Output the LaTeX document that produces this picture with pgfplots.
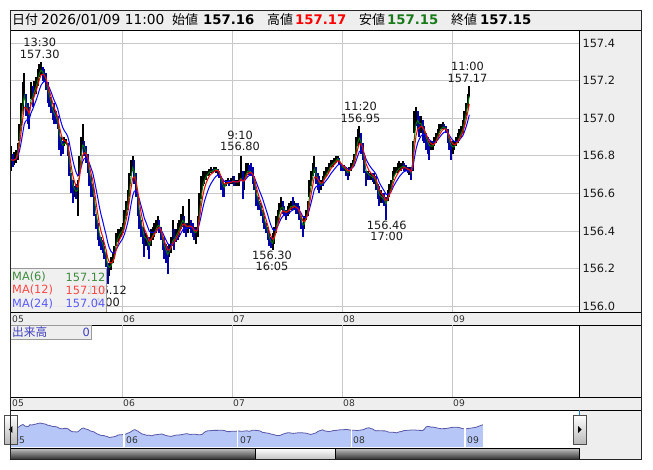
\documentclass[border=0pt]{standalone}
\usepackage{fontspec}
\setmainfont{DejaVu Sans}
\newfontfamily\cjk{Noto Sans CJK JP}
\usepackage{pgfplots}
\usepackage{pgfplotstable}
\pgfplotsset{compat=1.18}

\definecolor{panel}{HTML}{EEEEEE}
\definecolor{gridc}{HTML}{C8C8C8}
\definecolor{maG}{HTML}{007800}
\definecolor{maR}{HTML}{FF0000}
\definecolor{maB}{HTML}{0000FF}
\definecolor{candD}{HTML}{0000A8}
\definecolor{navfill}{HTML}{B6C6F6}
\definecolor{navline}{HTML}{5A5AA8}
\definecolor{legG}{HTML}{3D8B3D}
\definecolor{legR}{HTML}{FF4646}
\definecolor{legB}{HTML}{5A5AFF}
\definecolor{volT}{HTML}{4040C0}
\definecolor{hiR}{HTML}{FF0000}
\definecolor{loG}{HTML}{1A7A1A}

\pgfplotstableread{
x h l c u
11 156.85 156.72 156.78 1
12.7 156.81 156.74 156.77 0
14.3 156.82 156.75 156.78 1
16 156.83 156.76 156.79 1
17.7 156.87 156.78 156.84 1
19.3 156.97 156.88 156.93 1
21 157.08 156.96 157.03 1
22.7 157.19 157.04 157.12 1
24.3 157.24 157.12 157.16 1
26 157.13 157.01 157.05 0
27.7 157.08 156.97 157.02 0
29.3 157.06 156.94 157.00 0
31 157.19 157.10 157.15 1
32.7 157.17 157.06 157.12 0
34.3 157.20 157.12 157.16 1
36 157.22 157.13 157.18 1
37.7 157.26 157.17 157.22 1
39.3 157.29 157.22 157.26 1
41 157.30 157.23 157.27 1
42.7 157.27 157.20 157.24 0
44.3 157.26 157.19 157.22 0
46 157.24 157.15 157.19 0
47.7 157.19 157.08 157.12 0
49.3 157.15 157.06 157.10 0
51 157.11 157.03 157.06 0
52.7 157.06 156.99 157.02 0
54.3 157.08 156.97 157.01 0
56 157.04 156.97 157.00 0
57.7 157.01 156.94 156.96 0
59.3 156.94 156.83 156.88 0
61 156.90 156.80 156.85 0
62.7 156.88 156.81 156.84 0
64.3 156.90 156.85 156.87 1
66 156.89 156.86 156.87 1
67.7 156.87 156.80 156.84 0
69.3 156.80 156.69 156.74 0
71 156.71 156.60 156.65 0
72.7 156.67 156.55 156.61 0
74.3 156.64 156.58 156.61 1
76 156.65 156.57 156.60 0
77.7 156.67 156.48 156.62 1
79.3 156.80 156.69 156.75 1
81 156.90 156.80 156.85 1
82.7 156.97 156.85 156.90 1
84.3 156.88 156.80 156.84 0
86 156.85 156.76 156.80 0
87.7 156.81 156.71 156.76 0
89.3 156.72 156.64 156.68 0
91 156.69 156.58 156.64 0
92.7 156.65 156.58 156.61 0
94.3 156.58 156.48 156.53 0
96 156.49 156.41 156.45 0
97.7 156.44 156.35 156.40 0
99.3 156.39 156.32 156.35 0
101 156.37 156.30 156.33 0
102.7 156.35 156.28 156.32 0
104.3 156.32 156.25 156.28 0
106 156.28 156.21 156.25 0
107.7 156.23 156.12 156.18 0
109.3 156.23 156.16 156.20 1
111 156.26 156.19 156.22 1
112.7 156.28 156.23 156.25 1
114.3 156.32 156.25 156.28 1
116 156.39 156.32 156.36 1
117.7 156.41 156.34 156.38 1
119.3 156.41 156.35 156.39 1
121 156.42 156.37 156.40 1
122.7 156.44 156.39 156.41 1
124.3 156.51 156.42 156.46 1
126 156.56 156.48 156.52 1
127.7 156.62 156.51 156.57 1
129.3 156.71 156.58 156.65 1
131 156.78 156.69 156.74 1
132.7 156.80 156.72 156.77 1
134.3 156.78 156.65 156.70 0
136 156.71 156.58 156.63 0
137.7 156.58 156.48 156.53 0
139.3 156.51 156.41 156.46 0
141 156.46 156.37 156.41 0
142.7 156.42 156.33 156.38 0
144.3 156.41 156.26 156.34 0
146 156.39 156.32 156.36 1
147.7 156.37 156.30 156.33 0
149.3 156.37 156.25 156.31 0
151 156.41 156.32 156.37 1
152.7 156.42 156.35 156.39 1
154.3 156.44 156.37 156.40 1
156 156.46 156.39 156.42 1
157.7 156.48 156.41 156.44 1
159.3 156.46 156.39 156.43 0
161 156.42 156.35 156.38 0
162.7 156.37 156.30 156.33 0
164.3 156.37 156.25 156.30 0
166 156.33 156.23 156.28 0
167.7 156.32 156.17 156.26 0
169.3 156.33 156.26 156.30 1
171 156.37 156.28 156.33 1
172.7 156.46 156.32 156.37 1
174.3 156.41 156.30 156.36 0
176 156.41 156.34 156.38 1
177.7 156.44 156.35 156.40 1
179.3 156.46 156.37 156.42 1
181 156.49 156.41 156.45 1
182.7 156.53 156.42 156.47 1
184.3 156.48 156.39 156.44 0
186 156.44 156.37 156.41 0
187.7 156.44 156.39 156.42 1
189.3 156.57 156.41 156.43 1
191 156.46 156.39 156.42 0
192.7 156.44 156.37 156.41 0
194.3 156.42 156.35 156.38 0
196 156.42 156.33 156.39 1
197.7 156.48 156.37 156.42 1
199.3 156.60 156.48 156.54 1
201 156.69 156.57 156.63 1
202.7 156.72 156.64 156.68 1
204.3 156.72 156.65 156.69 1
206 156.72 156.67 156.70 1
207.7 156.72 156.69 156.71 1
209.3 156.73 156.70 156.72 1
211 156.74 156.71 156.72 1
212.7 156.73 156.71 156.72 0
214.3 156.74 156.72 156.73 1
216 156.74 156.71 156.73 1
217.7 156.73 156.70 156.72 0
219.3 156.72 156.68 156.70 0
221 156.69 156.62 156.65 0
222.7 156.67 156.58 156.63 0
224.3 156.65 156.58 156.62 0
226 156.67 156.64 156.66 1
227.7 156.68 156.65 156.66 1
229.3 156.67 156.64 156.66 0
231 156.68 156.65 156.66 1
232.7 156.69 156.65 156.67 1
234.3 156.69 156.64 156.66 0
236 156.67 156.64 156.66 1
237.7 156.67 156.64 156.66 1
239.3 156.71 156.64 156.67 1
241 156.80 156.67 156.69 1
242.7 156.72 156.57 156.65 0
244.3 156.72 156.62 156.67 1
246 156.76 156.69 156.72 1
247.7 156.76 156.71 156.73 1
249.3 156.75 156.70 156.72 0
251 156.76 156.69 156.71 0
252.7 156.74 156.65 156.69 0
254.3 156.69 156.62 156.65 0
256 156.62 156.53 156.57 0
257.7 156.58 156.51 156.55 0
259.3 156.56 156.51 156.53 0
261 156.55 156.48 156.51 0
262.7 156.51 156.44 156.48 0
264.3 156.48 156.41 156.44 0
266 156.44 156.39 156.41 0
267.7 156.42 156.35 156.38 0
269.3 156.39 156.32 156.34 0
271 156.37 156.31 156.33 0
272.7 156.39 156.30 156.33 1
274.3 156.42 156.33 156.38 1
276 156.48 156.39 156.44 1
277.7 156.51 156.44 156.48 1
279.3 156.55 156.49 156.52 1
281 156.58 156.51 156.54 1
282.7 156.56 156.49 156.53 0
284.3 156.53 156.48 156.50 0
286 156.51 156.46 156.49 0
287.7 156.53 156.48 156.51 1
289.3 156.55 156.49 156.52 1
291 156.56 156.51 156.54 1
292.7 156.58 156.51 156.53 0
294.3 156.56 156.51 156.54 1
296 156.55 156.49 156.52 0
297.7 156.55 156.49 156.51 0
299.3 156.53 156.46 156.49 0
301 156.48 156.41 156.44 0
302.7 156.44 156.37 156.41 0
304.3 156.48 156.41 156.44 1
306 156.51 156.46 156.49 1
307.7 156.56 156.48 156.52 1
309.3 156.67 156.58 156.62 1
311 156.72 156.64 156.68 1
312.7 156.76 156.69 156.72 1
314.3 156.80 156.71 156.76 1
316 156.74 156.65 156.69 0
317.7 156.71 156.62 156.66 0
319.3 156.69 156.60 156.64 0
321 156.67 156.62 156.64 1
322.7 156.69 156.64 156.66 1
324.3 156.72 156.67 156.70 1
326 156.74 156.69 156.71 1
327.7 156.74 156.71 156.72 1
329.3 156.76 156.72 156.74 1
331 156.78 156.74 156.76 1
332.7 156.78 156.74 156.76 1
334.3 156.79 156.75 156.77 1
336 156.80 156.76 156.78 1
337.7 156.80 156.77 156.79 1
339.3 156.79 156.75 156.77 0
341 156.76 156.72 156.74 0
342.7 156.75 156.72 156.73 0
344.3 156.75 156.72 156.73 1
346 156.74 156.69 156.72 0
347.7 156.72 156.67 156.70 0
349.3 156.74 156.69 156.72 1
351 156.76 156.72 156.74 1
352.7 156.78 156.74 156.76 1
354.3 156.81 156.76 156.79 1
356 156.90 156.81 156.86 1
357.7 156.94 156.85 156.90 1
359.3 156.96 156.87 156.91 1
361 156.92 156.81 156.86 0
362.7 156.87 156.78 156.82 0
364.3 156.80 156.71 156.74 0
366 156.72 156.64 156.68 0
367.7 156.72 156.67 156.70 1
369.3 156.71 156.67 156.69 0
371 156.71 156.67 156.69 1
372.7 156.71 156.66 156.68 0
374.3 156.71 156.65 156.68 1
376 156.69 156.62 156.65 0
377.7 156.65 156.57 156.60 0
379.3 156.64 156.53 156.57 0
381 156.62 156.55 156.58 1
382.7 156.60 156.55 156.57 0
384.3 156.60 156.53 156.56 0
386 156.58 156.46 156.53 0
387.7 156.62 156.56 156.59 1
389.3 156.65 156.58 156.62 1
391 156.67 156.62 156.64 1
392.7 156.72 156.67 156.70 1
394.3 156.74 156.69 156.71 1
396 156.74 156.71 156.72 1
397.7 156.76 156.71 156.73 1
399.3 156.77 156.72 156.74 1
401 156.76 156.72 156.74 1
402.7 156.77 156.73 156.75 1
404.3 156.76 156.72 156.74 0
406 156.75 156.72 156.73 0
407.7 156.74 156.71 156.72 0
409.3 156.74 156.70 156.72 1
411 156.74 156.67 156.70 0
412.7 156.88 156.72 156.80 1
414.3 157.04 156.92 156.98 1
416 157.06 156.96 157.02 1
417.7 157.04 156.94 157.00 0
419.3 157.01 156.90 156.96 0
421 157.01 156.92 156.97 1
422.7 156.99 156.88 156.94 0
424.3 156.96 156.87 156.92 0
426 156.92 156.83 156.88 0
427.7 156.90 156.81 156.86 0
429.3 156.88 156.78 156.84 0
431 156.88 156.83 156.85 1
432.7 156.88 156.83 156.85 1
434.3 156.90 156.85 156.87 1
436 156.92 156.87 156.89 1
437.7 156.94 156.90 156.92 1
439.3 156.97 156.92 156.94 1
441 156.97 156.94 156.95 1
442.7 156.98 156.94 156.96 1
444.3 156.97 156.94 156.95 0
446 156.96 156.92 156.94 0
447.7 156.94 156.87 156.90 0
449.3 156.90 156.83 156.86 0
451 156.88 156.78 156.84 0
452.7 156.88 156.81 156.84 1
454.3 156.88 156.83 156.85 1
456 156.90 156.85 156.87 1
457.7 156.92 156.87 156.89 1
459.3 156.94 156.88 156.91 1
461 156.96 156.90 156.93 1
462.7 156.99 156.92 156.95 1
464.3 157.04 156.96 157.00 1
466 157.08 157.01 157.05 1
467.7 157.13 157.06 157.10 1
469.3 157.17 157.11 157.15 1
}\pricedata

\pgfplotstablecreatecol[create col/expr accum={\pgfmathaccuma+0.6*(\thisrow{c}-\pgfmathaccuma)}{156.78}]{ma6}\pricedata
\pgfplotstablecreatecol[create col/expr accum={\pgfmathaccuma+0.38*(\thisrow{c}-\pgfmathaccuma)}{156.78}]{ma12}\pricedata
\pgfplotstablecreatecol[create col/expr accum={\pgfmathaccuma+0.21*(\thisrow{c}-\pgfmathaccuma)}{156.78}]{ma24}\pricedata

\newcommand{\lab}{\fontsize{11.4}{12}\selectfont}
\newcommand{\dat}{\fontsize{9.2}{10}\selectfont}
\newcommand{\hdr}{\fontsize{13.8}{14}\selectfont}
\newcommand{\hdrb}{\fontsize{13.3}{14}\selectfont\bfseries}

\begin{document}
\begin{tikzpicture}
\begin{scope}[x=1bp,y=-1bp]
  \useasboundingbox (0,0) rectangle (653,470);
  \fill[white] (0,0) rectangle (653,470);
  \fill[panel] (10,10) rectangle (641,30);
  \fill[panel] (579,30) rectangle (641,312.5);
  \fill[panel] (579,325) rectangle (641,397);
  \fill[panel] (579.6,410) rectangle (641,459);
\end{scope}

% ---------- main price axis ----------
\begin{axis}[
  at={(10bp,-312.5bp)}, anchor=south west,
  scale only axis, width=569bp, height=282.5bp,
  xmin=10, xmax=579, ymin=155.966, ymax=157.469,
  xtick={122,232,342,452}, xticklabels={},
  ytick={156.0,156.2,156.4,156.6,156.8,157.0,157.2,157.4},
  yticklabel pos=right,
  yticklabel style={font=\lab, text=black!90,
    /pgf/number format/fixed, /pgf/number format/fixed zerofill,
    /pgf/number format/precision=1, /pgf/number format/assume math mode=true},
  grid=major, major grid style={gridc, line width=0.8bp},
  major tick length=0pt,
  axis line style={black, line width=0.8bp},
]
\addplot[draw=none, mark=none, forget plot,
  restrict expr to domain={\thisrow{u}}{0.5:1.5},
  error bars/.cd, y dir=both, y explicit, error mark=none,
  error bar style={draw=black, line width=1.7bp}]
  table[x=x, y=c, y error plus expr=\thisrow{h}-\thisrow{c}, y error minus expr=\thisrow{c}-\thisrow{l}] {\pricedata};
\addplot[draw=none, mark=none, forget plot,
  restrict expr to domain={\thisrow{u}}{-0.5:0.5},
  error bars/.cd, y dir=both, y explicit, error mark=none,
  error bar style={draw=candD, line width=1.7bp}]
  table[x=x, y=c, y error plus expr=\thisrow{h}-\thisrow{c}, y error minus expr=\thisrow{c}-\thisrow{l}] {\pricedata};
\addplot[maG, line width=1bp] table[x=x, y=ma6] {\pricedata};
\addplot[maB, line width=1bp] table[x=x, y=ma24] {\pricedata};
\addplot[maR, line width=1bp] table[x=x, y=ma12] {\pricedata};
\end{axis}

% ---------- navigator ----------
\begin{axis}[
  at={(10bp,-447bp)}, anchor=south west,
  scale only axis, width=569.6bp, height=37bp,
  xmin=11.64, xmax=563.0, ymin=155.46, ymax=158.26,
  xtick={122,232,342,452}, xticklabels={}, ytick=\empty,
  grid=major, major grid style={white, line width=1.2bp},
  major tick length=0pt, axis on top,
  axis line style={draw=none},
]
\addplot[draw=none, fill=navfill] table[x=x, y=c] {\pricedata} \closedcycle;
\addplot[navline, line width=0.8bp] table[x=x, y=c] {\pricedata};
\end{axis}

\begin{scope}[x=1bp,y=-1bp]
  % peak / trough labels
  \begin{scope}[every node/.style={font=\lab, text=black!90, inner sep=0pt}]
    \node at (39.7,42.7) {13:30};   \node at (39.7,54.3) {157.30};
    \node at (240,135) {9:10};       \node at (240,146.7) {156.80};
    \node at (272,255) {156.30};     \node at (272,266.7) {16:05};
    \node at (360.5,106.7) {11:20};  \node at (360.5,118.3) {156.95};
    \node at (386.7,225) {156.46};   \node at (386.7,236.7) {17:00};
    \node at (467.5,66) {11:00};     \node at (467.5,78.3) {157.17};
    \node at (107,290) {156.12};     \node at (107,302.5) {4:00};
  \end{scope}
  % MA legend box (drawn over the low label, as in the chart)
  \fill[panel, opacity=0.88] (10,268.3) rectangle (106.7,312.5);
  \draw[black!40, line width=0.8bp] (10,268.3) -- (106.7,268.3) -- (106.7,312.5);
  \begin{scope}[every node/.style={font=\lab, inner sep=0pt}]
    \node[anchor=west, text=legG] at (12,277) {MA(6)};
    \node[anchor=east, text=legG] at (105.5,277) {157.12};
    \node[anchor=west, text=legR] at (12,290.3) {MA(12)};
    \node[anchor=east, text=legR] at (105.5,290.3) {157.10};
    \node[anchor=west, text=legB] at (12,303.6) {MA(24)};
    \node[anchor=east, text=legB] at (105.5,303.6) {157.04};
  \end{scope}
  % header text
  \begin{scope}[every node/.style={anchor=base west, inner sep=0pt}]
    \node[font=\cjk\fontsize{13}{14}\selectfont] at (12,24.6) {日付};
    \node[font=\hdr] at (41,24.6) {2026/01/09 11:00};
    \node[font=\cjk\fontsize{13}{14}\selectfont] at (172,24.6) {始値};
    \node[font=\hdrb] at (203,24.6) {157.16};
    \node[font=\cjk\fontsize{13}{14}\selectfont] at (267,24.6) {高値};
    \node[font=\hdrb, text=hiR] at (295,24.6) {157.17};
    \node[font=\cjk\fontsize{13}{14}\selectfont] at (359,24.6) {安値};
    \node[font=\hdrb, text=loG] at (387,24.6) {157.15};
    \node[font=\cjk\fontsize{13}{14}\selectfont] at (451,24.6) {終値};
    \node[font=\hdrb] at (480,24.6) {157.15};
  \end{scope}
  \draw[black, line width=0.8bp] (10,30) -- (641,30);
  % date strip 1
  \fill[panel] (10,312.5) rectangle (641,325);
  \draw[black, line width=0.8bp] (10,312.5) -- (641,312.5) (10,325) -- (641,325);
  % volume panel
  \foreach \gx in {122,232,342,452} {\draw[gridc, line width=0.8bp] (\gx,325) -- (\gx,397);}
  \draw[black, line width=0.8bp] (579,325) -- (579,397);
  \fill[panel] (10,325.5) rectangle (91.7,339);
  \draw[black!40, line width=0.8bp] (10,325.5) rectangle (91.7,339);
  \node[anchor=west, inner sep=0pt, text=volT, font=\cjk\fontsize{11.7}{12}\selectfont] at (12,332.3) {出来高};
  \node[anchor=east, inner sep=0pt, text=volT, font=\lab] at (90,332.3) {0};
  % date strip 2
  \fill[panel] (10,397) rectangle (641,410);
  \draw[black, line width=0.8bp] (10,397) -- (641,397) (10,410) -- (641,410);
  \begin{scope}[every node/.style={anchor=west, inner sep=0pt, font=\dat, text=black!80}]
    \node at (12,318.9) {05}; \node at (123,318.9) {06}; \node at (233,318.9) {07};
    \node at (343,318.9) {08}; \node at (453,318.9) {09};
    \node at (12,403.6) {05}; \node at (123,403.6) {06}; \node at (233,403.6) {07};
    \node at (343,403.6) {08}; \node at (453,403.6) {09};
    \node at (13,440) {05}; \node at (126,440) {06}; \node at (240,440) {07};
    \node at (353,440) {08}; \node at (467,440) {09};
  \end{scope}
  % navigator edges and buttons
  \draw[cyan!70!blue, line width=0.8bp] (10.4,410) -- (10.4,446) (579.6,410) -- (579.6,415);
  \shade[top color=white, bottom color=gray!55] (4,415) rectangle (17.5,444);
  \draw[black!70, line width=0.8bp] (4,415) rectangle (17.5,444);
  \fill[black] (8.8,429.5) -- (12.3,426.2) -- (12.3,432.8) -- cycle;
  \shade[top color=white, bottom color=gray!55] (573,415) rectangle (586.5,444);
  \draw[black!70, line width=0.8bp] (573,415) rectangle (586.5,444);
  \fill[black] (581.7,429.5) -- (578.2,426.2) -- (578.2,432.8) -- cycle;
  % scrollbar
  \shade[top color=gray!45, bottom color=black!80] (10,448) rectangle (579.6,459);
  \draw[black, line width=0.8bp] (10,448) rectangle (579.6,459);
  \shade[top color=white, bottom color=gray!45] (255,448.5) rectangle (335,458.5);
  \draw[black, line width=0.8bp] (255,448) rectangle (335,459);
  % outer frame
  \draw[black!85, line width=0.8bp] (10,10) rectangle (641,459);
\end{scope}
\end{tikzpicture}
\end{document}
